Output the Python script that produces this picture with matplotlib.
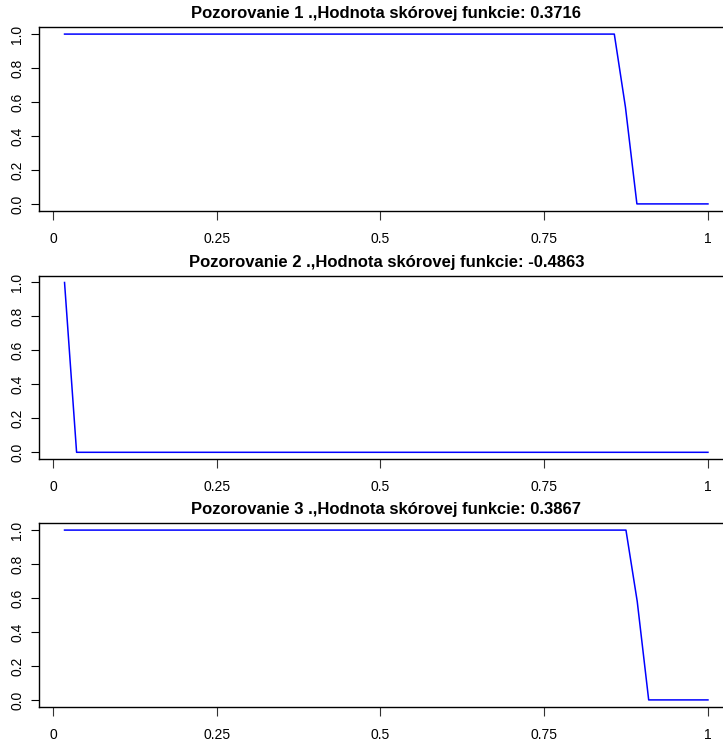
import numpy as np
import matplotlib
matplotlib.use('Agg')
import matplotlib.pyplot as plt

plt.rcParams['font.family'] = ['Liberation Sans', 'DejaVu Sans']

# breakpoints of each curve
x1 = [0.0176, 0.857, 0.874, 0.8915, 1.0]
y1 = [1.0, 1.0, 0.57, 0.0, 0.0]
x2 = [0.0176, 0.036, 1.0]
y2 = [1.0, 0.0, 0.0]
x3 = [0.0176, 0.8748, 0.892, 0.9095, 1.0]
y3 = [1.0, 1.0, 0.58, 0.0, 0.0]

scores = ['0.3716', '-0.4863', '0.3867']
x_ticks = [0, 0.25, 0.5, 0.75, 1]
x_tick_labels = ['0', '0.25', '0.5', '0.75', '1']
y_ticks = [0.0, 0.2, 0.4, 0.6, 0.8, 1.0]
y_tick_labels = ['0.0', '0.2', '0.4', '0.6', '0.8', '1.0']

W, H = 723, 743
fig = plt.figure(figsize=(W / 100, H / 100), dpi=100)

series = [(x1, y1), (x2, y2), (x3, y3)]
tops = [27.3, 275.7, 523.3]
left_px, right_px, height_px = 38.8, 733.7, 183.4

for i, (xs, ys) in enumerate(series):
    top = tops[i]
    ax = fig.add_axes([left_px / W, 1 - (top + height_px) / H,
                       (right_px - left_px) / W, height_px / H])
    ax.plot(xs, ys, color='#0000ff', linewidth=1.1)
    ax.set_xlim(-0.0217, 1.0393)
    ax.set_ylim(-0.04, 1.04)
    ax.spines['right'].set_visible(False)
    for s in ['left', 'top', 'bottom']:
        ax.spines[s].set_linewidth(1.0)
        ax.spines[s].set_color('black')
    ax.set_xticks(x_ticks)
    ax.set_xticklabels(x_tick_labels)
    ax.set_yticks(y_ticks)
    ax.set_yticklabels(y_tick_labels, rotation=90, va='center')
    ax.tick_params(axis='x', length=6.8, width=0.8, pad=8.5, labelsize=10,
                   color='#333333')
    ax.tick_params(axis='y', length=5.5, width=0.8, pad=5, labelsize=10)
    ax.set_title('Pozorovanie %d .,Hodnota skórovej funkcie: %s' % (i + 1, scores[i]),
                 fontsize=12, fontweight='bold', pad=6.5)

fig.savefig('out.png', dpi=100)
